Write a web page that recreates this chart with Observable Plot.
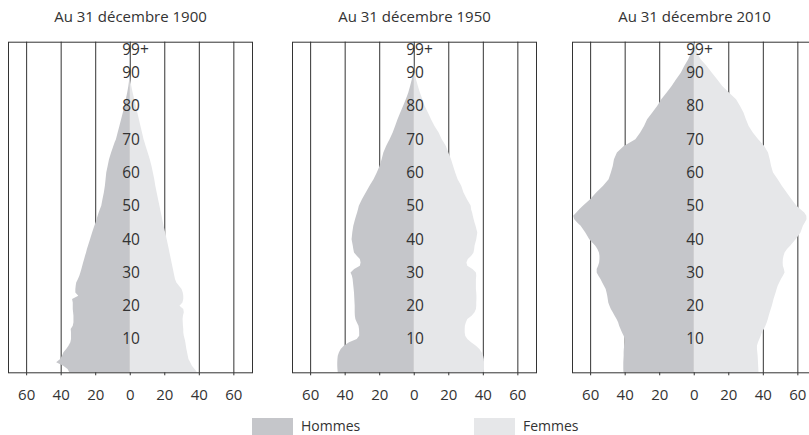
<!DOCTYPE html>
<html>
<head>
<meta charset="utf-8">
<script src="https://cdn.jsdelivr.net/npm/d3@7"></script>
<script src="https://cdn.jsdelivr.net/npm/@observablehq/plot@0.6"></script>
<style>
  html, body { margin: 0; padding: 0; background: #fff; overflow: hidden; }
  #wrap { position: relative; width: 809px; height: 435px; overflow: hidden; font-family: "Open Sans", sans-serif; color: #333; }
  .panel { position: absolute; top: 0; }
  .sw { position: absolute; height: 19px; width: 41px; }
  .lg { position: absolute; font-size: 14px; line-height: 18px; color: #333; }
</style>
</head>
<body>
<div id="wrap"></div>
<script>
// ---- data (population by age, in thousands) ----
const ages = [0,1,2,3,4,5,6,7,8,9,10,11,12,13,14,15,16,17,18,19,20,21,22,23,24,25,26,27,28,29,30,31,32,33,34,35,36,37,38,
  40,42,44,45,46,47,48,49,50,52,54,56,58,60,62,64,66,68,69,70,72,74,76,78,80,82,84,86,88,90,92,94,96,98,99];

const titles = ["Au 31 décembre 1900", "Au 31 décembre 1950", "Au 31 décembre 2010"];

const hommes1900 = [35,36,38.5,42.6,40.3,39.2,38.4,36.8,35.5,34.4,34,34,34,34.2,33,32.6,32.6,32.6,32.8,33,33,33,33.4,29.8,31.5,31.5,31.3,31,30,29.2,28.6,28,27.5,27,26.4,25.9,25.3,24.8,24.2,
  23,21.8,20.5,19.8,19.2,18.6,18,17.3,16.5,15.8,15,14.4,14,13.6,12.8,12,10.8,9.5,8.8,8,7,6,5,4,3.2,2.3,1.5,0.8,0.3,0,0,0,0,0,0];
const femmes1900 = [39,37.5,36,35,34,33.6,33.2,32.8,32.5,32.2,31.8,31.3,31,31,30.8,30.7,30.6,30.8,31.3,31,28.8,30.5,31,31,30.7,30,28.5,27,26.2,25.8,25.4,25,24.6,24.2,23.8,23.4,23,22.6,22.2,
  21.4,20.5,19.6,19.2,18.8,18.4,18,17.6,17.2,16.4,15.6,14.8,14.2,13.4,12.6,11.6,10.4,9.2,8.6,8,7.1,6.2,5.3,4.4,3.6,2.6,1.7,0.9,0.3,0,0,0,0,0,0];

const hommes1950 = [44,44.2,44.3,44.3,44.2,44,43.3,42.3,40.5,37.5,33,31.6,31.6,31.7,32,33,33.8,34.1,34.2,34.2,34.2,34.3,34.4,34.5,34.6,34.8,35,35.2,35.4,35.8,36.6,34.5,31.2,30.8,31.2,33,34.6,35,35.3,
  36,35.6,35,34.5,34,33.4,32.8,32.3,31.8,30,27.8,25.6,23.3,21.4,19.8,18.6,17.6,16,15,14,12.2,10.8,9.4,7.8,6.2,4.6,3.2,2.1,1.1,0.5,0.2,0,0,0,0];
const femmes1950 = [40.6,40.7,40.7,40.7,40.6,40.2,39.3,38,36,33.2,31,29.8,29.5,29.5,29.6,30.2,31,33.5,35.2,36,36.2,36.2,36.3,36.3,36.2,36,36,36,36,36.2,36,34,31,30.5,31.3,33.3,34.6,35,35.2,
  36.2,36.8,35.8,35.2,34.7,34.2,33.8,33.2,33,30.8,28.8,27.5,25.4,24,22.8,21.6,20,18.6,17.4,16.2,14.4,12,10,8.2,6.3,5,3.6,2.4,1.3,0.5,0.2,0,0,0,0];

const hommes2010 = [40.7,40.8,40.8,40.8,40.7,40.6,40.6,40.5,40.3,39.8,39.8,40.6,41.6,42.4,43.2,43.8,44.7,45.8,46.9,48,48.8,49.5,49.8,50.1,50.5,51,52,53,54,55.2,56.2,56.2,55.4,54.8,54.6,54.6,54.9,55.8,57,
  60.5,62.8,65.5,67.5,69.2,69.8,68,66.3,64.2,60,56.5,52.5,49.3,48,46.9,46.2,44.5,40.5,37,33.8,31,28.8,27,24,21.2,18.8,15.8,12.8,10.2,7.5,5.5,3.2,1.6,0.5,0.2];
const femmes2010 = [37.5,37.4,37.3,37.2,37.1,37,36.8,36.6,36.6,37.2,38,38.8,39.5,40.6,41.5,42.3,42.9,43.4,44,44.6,45.2,45.7,46.2,46.8,47.4,48,48.6,49.5,50.5,51.6,52.6,52.2,51.6,51.5,51.6,52,52.6,54,55.8,
  59,61.8,63.2,64.3,65.3,65.2,64,61.8,59.5,56.6,53.8,51,48.6,45.9,44.8,44,43,40.8,39,37.3,34.2,31.8,30.2,28.8,26.8,24.5,20.5,16.5,13.5,10.5,7.5,4,2,0.8,0.4];

const xTicks = [-60, -40, -20, 0, 20, 40, 60];
const ageTicks = [10, 20, 30, 40, 50, 60, 70, 80, 90, 97];
const ageTickLabels = ["10", "20", "30", "40", "50", "60", "70", "80", "90", "99+"];
const legendLabels = ["Hommes", "Femmes"];

const hommes = [hommes1900, hommes1950, hommes2010];
const femmes = [femmes1900, femmes1950, femmes2010];

const C_H = "#c5c6ca";
const C_F = "#e6e7e9";
const INK = "#333";

const wrap = document.getElementById("wrap");
const lefts = [0, 284, 564];

titles.forEach((title, i) => {
  const data = ages.map((a, j) => ({age: a, h: hommes[i][j], f: femmes[i][j]}));
  const svg = Plot.plot({
    width: 262,
    height: 410,
    marginLeft: 8,
    marginRight: 10,
    marginTop: 41.7,
    marginBottom: 37.7,
    style: {fontFamily: "'Open Sans', sans-serif", fontSize: "15px", color: INK, background: "transparent", overflow: "visible"},
    x: {domain: [-70.5, 70.8], ticks: xTicks, tickFormat: d => Math.abs(d), tickSize: 3, tickPadding: 14, label: null},
    y: {domain: [0, 99.3], axis: null},
    marks: [
      Plot.ruleX(xTicks, {stroke: INK, strokeWidth: 1}),
      Plot.areaX(data, {y: "age", x1: d => 0, x2: d => -d.h, fill: C_H}),
      Plot.areaX(data, {y: "age", x1: d => 0, x2: "f", fill: C_F}),
      Plot.frame({stroke: INK, strokeWidth: 1}),
      Plot.text(ageTicks, {x: d => 0, y: d => d, text: (d, k) => ageTickLabels[k], textAnchor: "start", dx: -8, fontSize: 15.5, fill: INK}),
      Plot.text([title], {frameAnchor: "top", dy: -25, lineAnchor: "middle", fontSize: 15, fill: INK})
    ]
  });
  svg.classList.add("panel");
  svg.style.left = lefts[i] + "px";
  wrap.appendChild(svg);
});

// legend
const legendColors = [C_H, C_F];
const swX = [252, 474];
legendLabels.forEach((lab, i) => {
  const sw = document.createElement("div");
  sw.className = "sw";
  sw.style.left = swX[i] + "px";
  sw.style.top = "418px";
  sw.style.background = legendColors[i];
  wrap.appendChild(sw);
  const t = document.createElement("div");
  t.className = "lg";
  t.style.left = (swX[i] + 49) + "px";
  t.style.top = "417px";
  t.textContent = lab;
  wrap.appendChild(t);
});
</script>
</body>
</html>
